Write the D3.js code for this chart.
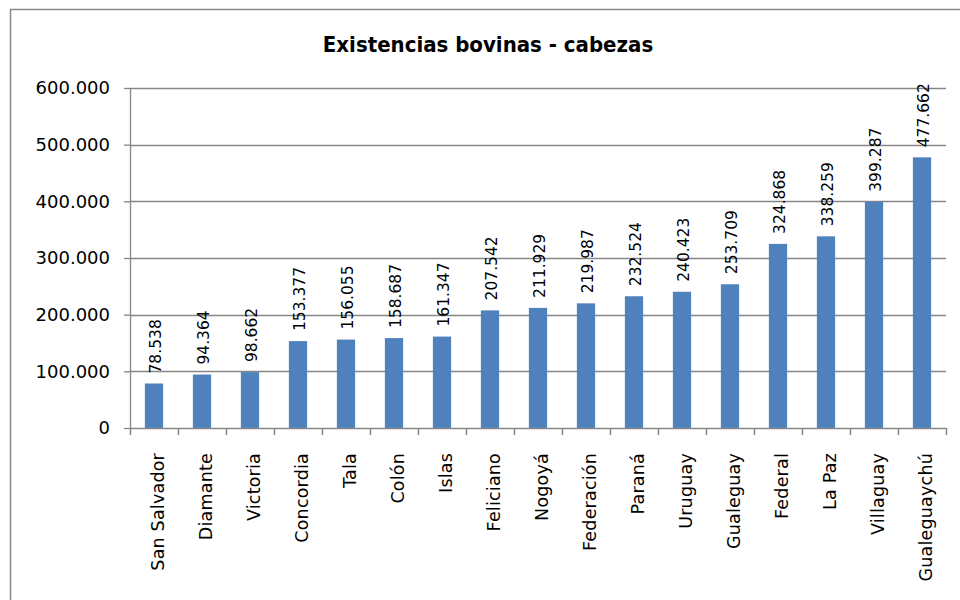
<!DOCTYPE html>
<html><head><meta charset="utf-8">
<script src="https://cdn.jsdelivr.net/npm/d3@7"></script>
<style>body{margin:0;background:#fff}svg{display:block}</style>
</head><body>
<script>
const categories = ["San Salvador","Diamante","Victoria","Concordia","Tala","Colón","Islas","Feliciano","Nogoyá","Federación","Paraná","Uruguay","Gualeguay","Federal","La Paz","Villaguay","Gualeguaychú"];
const values = [78538,94364,98662,153377,156055,158687,161347,207542,211929,219987,232524,240423,253709,324868,338259,399287,477662];
const yTicks = [0,100000,200000,300000,400000,500000,600000];
const title = "Existencias bovinas - cabezas";

(function(){
const W=960,H=600;
const svg=d3.select("body").append("svg").attr("width",W).attr("height",H);
svg.append("rect").attr("x",10.5).attr("y",9.5).attr("width",W).attr("height",H).attr("fill","#fff").attr("stroke","#868686").attr("stroke-width",1.5);

const pl=130,pr=946,pt=88,pb=428;
const fmt=v=>v===0?"0":d3.format(",")(v).replace(/,/g,".");
const x=d3.scaleBand().domain(categories).range([pl,pr]).paddingInner(0.62).paddingOuter(0.31);
const y=d3.scaleLinear().domain([0,600000]).range([pb,pt]);
const font="'DejaVu Sans', sans-serif";

svg.append("text").attr("x",488).attr("y",52).attr("text-anchor","middle")
 .attr("font-family","'Liberation Sans Narrow','DejaVu Sans Condensed',sans-serif").attr("font-weight","bold").attr("font-size",22).text(title);

const yAxis=d3.axisLeft(y).tickValues(yTicks).tickFormat(fmt).tickSize(6).tickPadding(14);
const gy=svg.append("g").attr("transform",`translate(${pl},0)`).call(yAxis);
gy.selectAll("text").attr("font-family",font).attr("font-size",18).attr("fill","#000");
gy.selectAll("line,path").attr("stroke","#868686").attr("stroke-width",1.3);
gy.select("path").attr("d",`M0.5,${pb}V${pt}`);

svg.append("g").selectAll("line").data(yTicks.filter(d=>d>0)).join("line")
 .attr("x1",pl).attr("x2",pr).attr("y1",d=>Math.round(y(d))+0.5).attr("y2",d=>Math.round(y(d))+0.5)
 .attr("stroke","#868686").attr("stroke-width",1.3);

svg.append("g").selectAll("rect").data(values).join("rect")
 .attr("x",(d,i)=>x(categories[i])).attr("width",x.bandwidth())
 .attr("y",d=>y(d)).attr("height",d=>pb-y(d)).attr("fill","#4F81BD");

const step=x.step();
const bx=svg.append("g");
bx.append("line").attr("x1",pl).attr("x2",pr).attr("y1",pb+0.5).attr("y2",pb+0.5).attr("stroke","#868686").attr("stroke-width",1.5);
bx.selectAll("line.t").data(d3.range(categories.length+1)).join("line").attr("class","t")
 .attr("x1",i=>pl+i*step+0.5).attr("x2",i=>pl+i*step+0.5).attr("y1",pb).attr("y2",pb+7).attr("stroke","#868686").attr("stroke-width",1.5);

svg.append("g").selectAll("text").data(categories).join("text")
 .attr("transform",d=>`translate(${x(d)+x.bandwidth()/2+10},453) rotate(-90)`)
 .attr("text-anchor","end").attr("font-family",font).attr("font-size",17.5).attr("letter-spacing",0.2).attr("fill","#000").text(d=>d);

svg.append("g").selectAll("text").data(values).join("text")
 .attr("transform",(d,i)=>`translate(${x(categories[i])+x.bandwidth()/2+7},${y(d)-10}) rotate(-90)`)
 .attr("text-anchor","start").attr("font-family",font).attr("font-size",15.5).attr("fill","#000").text(d=>fmt(d));
})();
</script>
</body></html>
